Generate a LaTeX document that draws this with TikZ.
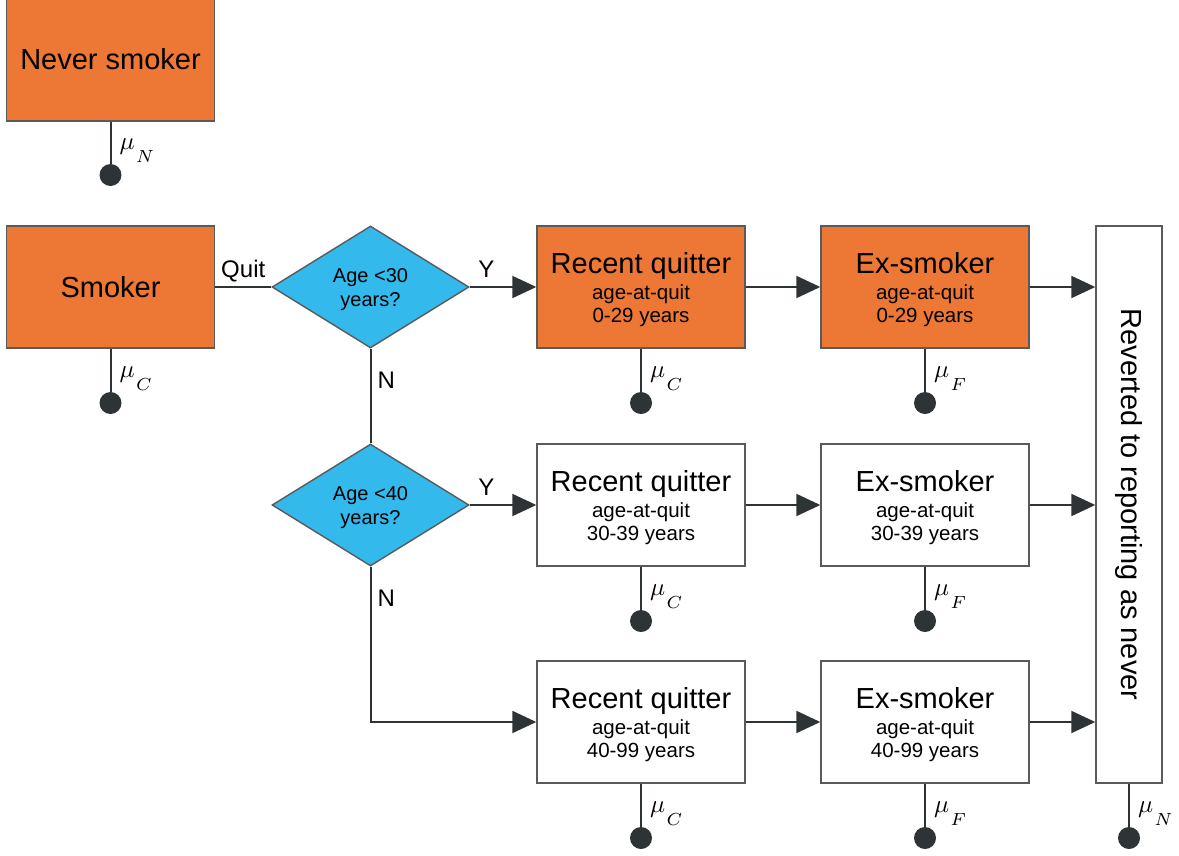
\documentclass[tikz,border=0pt]{standalone}
\usepackage{fontspec}
\setmainfont{Liberation Sans}
\usepackage{tikz}
\usetikzlibrary{arrows.meta,shapes.geometric}
\usepackage{xcolor}
\definecolor{smkorange}{RGB}{237,119,53}
\definecolor{askblue}{RGB}{51,185,236}
\definecolor{linkgray}{RGB}{46,52,54}
\definecolor{edgegray}{RGB}{90,90,90}
\newcommand{\titlesize}{\fontsize{29}{33}\selectfont}
\newcommand{\subsize}{\fontsize{20.5}{23}\selectfont}
\newcommand{\rate}[1]{\scalebox{2.5}{$\mu$\kern0.6pt\raisebox{-5.2pt}{$\scriptstyle #1$}}}
\newcommand{\quittext}[2]{\rule{0pt}{27pt}{\titlesize #1}\\[3pt]age-at-quit\\#2}

\begin{document}
\begin{tikzpicture}[x=1pt, y=-1pt]
\tikzstyle{statebox} = [rectangle, draw=edgegray, line width=1.4pt, fill=white, minimum width=208pt, minimum height=122pt, inner sep=0pt, font=\titlesize]
\tikzstyle{quitbox} = [statebox, align=center, font=\subsize]
\tikzstyle{askbox} = [diamond, draw=edgegray, line width=1.4pt, fill=askblue, minimum width=197pt, minimum height=122pt, aspect=1.6, inner sep=0pt, align=center, font=\fontsize{20}{24}\selectfont]
\tikzstyle{sink} = [circle, fill=linkgray, minimum size=22pt, inner sep=0pt]
\tikzstyle{flowline} = [draw=linkgray, line width=2pt]
\tikzstyle{flowarrow} = [flowline, -{Triangle[length=24pt, width=22pt]}]
\tikzstyle{tag} = [font=\fontsize{24}{28}\selectfont, inner sep=4pt]
\useasboundingbox (0,0) rectangle (1179,855);
\node[statebox, fill=smkorange, minimum height=124pt] (never) at (110.5,59) {Never smoker};
\node[statebox, fill=smkorange] (smk) at (110.5,287) {Smoker};
\node[askbox] (d1) at (370.5,287) {\rule{0pt}{18.5pt}Age <30\\years?};
\node[askbox] (d2) at (370.5,505) {\rule{0pt}{18.5pt}Age <40\\years?};
\node[quitbox, fill=smkorange] (rq1) at (641,287) {\quittext{Recent quitter}{0-29 years}};
\node[quitbox, fill=smkorange] (ex1) at (925,287) {\quittext{Ex-smoker}{0-29 years}};
\node[quitbox] (rq2) at (641,505) {\quittext{Recent quitter}{30-39 years}};
\node[quitbox] (ex2) at (925,505) {\quittext{Ex-smoker}{30-39 years}};
\node[quitbox] (rq3) at (641,722) {\quittext{Recent quitter}{40-99 years}};
\node[quitbox] (ex3) at (925,722) {\quittext{Ex-smoker}{40-99 years}};
\node[statebox, minimum width=66pt, minimum height=557pt] (rev) at (1129,504.5) {\rotatebox{-90}{Reverted to reporting as never}};
\draw[flowline] (smk) -- node[tag, above] (quit) {Quit} (d1);
\draw[flowarrow] (d1) -- node[tag, above, pos=0.25, yshift=5pt] (y1) {Y} (rq1);
\draw[flowarrow] (d2) -- node[tag, above, pos=0.25, yshift=5pt] (y2) {Y} (rq2);
\draw[flowline] (d1) -- node[tag, right, pos=0.33, inner sep=6pt] (n1) {N} (d2);
\draw[flowarrow] (d2) |- node[tag, right, pos=0.1, inner sep=6pt] (n2) {N} (rq3);
\draw[flowarrow] (rq1) -- (ex1);
\draw[flowarrow] (rq2) -- (ex2);
\draw[flowarrow] (rq3) -- (ex3);
\draw[flowarrow] (ex1) -- (ex1 -| rev.west);
\draw[flowarrow] (ex2) -- (ex2 -| rev.west);
\draw[flowarrow] (ex3) -- (ex3 -| rev.west);
\foreach \s/\x/\y/\m in {never/110.5/175/N, smk/110.5/403/C, rq1/641/403/C, ex1/925/403/F, rq2/641/621/C, ex2/925/621/F, rq3/641/838/C, ex3/925/838/F, rev/1129/838/N} {
  \node[sink] (\s-end) at (\x,\y) {};
  \draw[flowline] (\s) -- node[right, inner sep=8pt, yshift=-8pt] (\s-mu) {\rate{\m}} (\s-end);
}
\end{tikzpicture}
\end{document}
